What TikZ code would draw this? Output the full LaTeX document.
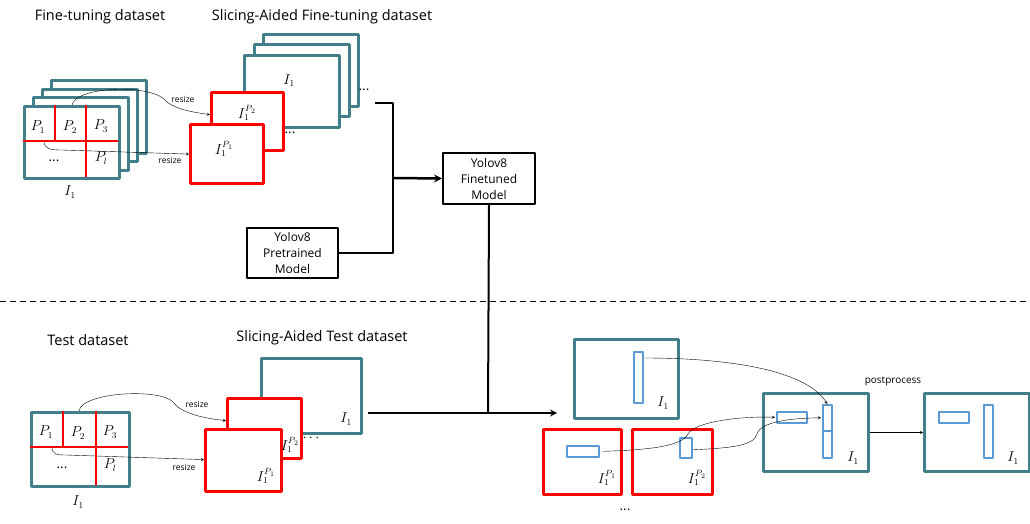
\documentclass[tikz,border=0pt]{standalone}
\usepackage{fontspec}
\setmainfont{Open Sans}
\usetikzlibrary{calc}
\definecolor{frameteal}{RGB}{67,127,139}
\definecolor{slicered}{RGB}{255,0,0}
\definecolor{boxblue}{RGB}{91,155,213}
\tikzset{
	frame/.style={draw=frameteal,line width=3pt,fill=white,inner sep=0pt,anchor=north west},
	slice/.style={draw=slicered,line width=3.2pt,fill=white,inner sep=0pt,anchor=north west},
	model/.style={draw,line width=2pt,fill=white,align=center,font=\fontsize{12}{16}\selectfont,inner sep=0pt,anchor=north west},
	bbox/.style={draw=boxblue,line width=1.6pt,fill=white,inner sep=0pt,anchor=north west},
	title/.style={font=\fontsize{14.5}{17}\selectfont},
	small/.style={font=\fontsize{8.5}{10}\selectfont},
	lbl/.style={font=\fontsize{13.5}{15}\selectfont,inner sep=0pt},
	grid/.style={draw=slicered,line width=1.2pt},
}
\begin{document}
\begin{tikzpicture}[x=1pt,y=-1pt,line join=round,>=stealth]
	\useasboundingbox (0,0) rectangle (1030,524);
	\node[title] (t1) at (100,17) {Fine-tuning dataset};
	\node[title] (t2) at (322,17) {Slicing-Aided Fine-tuning dataset};
	\node[title] (t3) at (88,340) {Test dataset};
	\node[title] (t4) at (322,338) {Slicing-Aided Test dataset};
	% fine-tuning
	\foreach \i in {3,2,1,0}{
		\node[frame,minimum width=95pt,minimum height=72pt] (ft\i) at ({23+9*\i},{105-8.5*\i}) {};
	}
	\draw[grid] (55,105)--(55,141) (86,105)--(86,177) (23,141)--(118,141);
	\node[lbl] (fp1) at (38,127) {$P_1$};
	\node[lbl] (fp2) at (70,127) {$P_2$};
	\node[lbl] (fp3) at (101,126) {$P_3$};
	\node[lbl] (fpd) at (54,161) {...};
	\node[lbl] (fpl) at (101,158) {$P_l$};
	\node[lbl] (fi1) at (70,192) {$I_1$};
	\foreach \i in {2,1,0}{
		\node[frame,minimum width=95pt,minimum height=72pt] (fs\i) at ({243+9.5*\i},{54-10.5*\i}) {};
	}
	\node[lbl] (fsl) at (289,81) {$I_1$};
	\node[slice,minimum width=72pt,minimum height=58pt] (tp2) at (210,91) {};
	\node[lbl] (tp2l) at (247,113) {$I_1^{P_2}$};
	\node[slice,minimum width=73pt,minimum height=59pt] (tp1) at (189,123) {};
	\node[lbl] (tp1l) at (224,149) {$I_1^{P_1}$};
	\node[lbl] (fd1) at (364,90) {...};
	\node[lbl] (fd2) at (290,133) {...};
	\draw[->,thin] (72,105) .. controls (76,86) and (150,84) .. (165,100) .. controls (172,108) and (190,112) .. ($(tp2.west)+(0,-7)$);
	\node[small] (rs1) at (183,99) {resize};
	\draw[->,thin] (44,141) .. controls (44,149) and (50,150) .. (62,150) -- (tp1.west);
	\node[small] (rs2) at (170,160) {resize};
	% models
	\node[model,minimum width=91pt,minimum height=50pt] (pre) at (246,227) {Yolov8\\Pretrained\\Model};
	\node[model,minimum width=92pt,minimum height=51pt] (fin) at (442,152) {Yolov8\\Finetuned\\Model};
	\coordinate (dots1) at (375,103);
	\coordinate (bend) at (393,178);
	\draw[line width=2pt] (dots1) -| (bend) |- (pre.east);
	\draw[->,line width=2.5pt] (bend) -- (fin.west);
	\draw[dashed,line width=1pt,dash pattern=on 6pt off 4pt] (0,301) -- (1030,301);
	% test
	\node[frame,minimum width=98pt,minimum height=74pt] (tt) at (30,411) {};
	\draw[grid] (63,411)--(63,447) (96,411)--(96,485) (30,447)--(128,447);
	\node[lbl] (tq1) at (46,432) {$P_1$};
	\node[lbl] (tq2) at (78,433) {$P_2$};
	\node[lbl] (tq3) at (110,432) {$P_3$};
	\node[lbl] (tqd) at (62,468) {...};
	\node[lbl] (tql) at (110,465) {$P_l$};
	\node[lbl] (ti1) at (78,502) {$I_1$};
	\node[frame,minimum width=100pt,minimum height=75pt] (ts) at (260,357) {};
	\node[lbl] (tsl) at (346,419) {$I_1$};
	\node[slice,minimum width=74pt,minimum height=60pt] (sp2) at (226,397) {};
	\node[slice,minimum width=76pt,minimum height=62pt] (sp1) at (204,428) {};
	\node[lbl] (sp2l) at (290,445) {$I_1^{P_2}$};
	\node[lbl] (sp1l) at (266,476) {$I_1^{P_1}$};
	\node[lbl] (td) at (311,438) {$\cdots$};
	\draw[->,thin] (79,411) .. controls (82,392) and (160,388) .. (173,402) .. controls (180,412) and (200,418) .. ($(sp2.west)+(0,-8)$);
	\node[small] (rs3) at (197,404) {resize};
	\draw[->,thin] (52,447) .. controls (52,454) and (56,455) .. (66,455) -- ($(sp1.west)+(0,-1)$);
	\node[small] (rs4) at (184,467) {resize};
	\coordinate (join) at (488,413);
	\coordinate (tstart) at (368,413);
	\coordinate (tend) at (557,413);
	\draw[line width=2pt] (fin.south) -- (join);
	\draw[->,line width=2pt] (tstart) -- (tend);
	% results
	\node[frame,minimum width=104pt,minimum height=79pt] (r0) at (573,338) {};
	\node[bbox,minimum width=9pt,minimum height=51pt] (r0v) at (633,351) {};
	\node[lbl] (r0l) at (663,403) {$I_1$};
	\node[slice,minimum width=78pt,minimum height=65pt] (ra) at (542,428) {};
	\node[bbox,minimum width=32pt,minimum height=11pt] (rah) at (566,445) {};
	\node[lbl] (ral) at (607,478) {$I_1^{P_1}$};
	\node[slice,minimum width=80pt,minimum height=65pt] (rb) at (631,428) {};
	\node[bbox,minimum width=12pt,minimum height=20pt] (rbv) at (679,437) {};
	\node[lbl] (rbl) at (697,478) {$I_1^{P_2}$};
	\node[lbl] (rd) at (625,510) {...};
	\node[frame,minimum width=105pt,minimum height=78pt] (mg) at (762,392) {};
	\node[bbox,minimum width=30pt,minimum height=11pt] (mgh) at (776,411) {};
	\node[bbox,minimum width=9pt,minimum height=27pt] (mgv2) at (822,430) {};
	\node[bbox,minimum width=9pt,minimum height=26pt] (mgv1) at (822,404) {};
	\node[lbl] (mgl) at (853,458) {$I_1$};
	\node[frame,minimum width=105pt,minimum height=78pt] (fn) at (923,392) {};
	\node[bbox,minimum width=30pt,minimum height=11pt] (fnh) at (938,411) {};
	\node[bbox,minimum width=9pt,minimum height=53pt] (fnv) at (983,404) {};
	\node[lbl] (fnl) at (1013,458) {$I_1$};
	\draw[->,thin] ($(r0v.north east)+(1,7)$) .. controls (720,358) and (805,368) .. (mgv1.north);
	\draw[->,thin] ($(rah.east)+(3,0)$) .. controls (650,450) and (682,446) .. (688,434) .. controls (694,422) and (740,416) .. ($(mgh.west)+(-1,0)$);
	\draw[->,thin] ($(rbv.east)+(0,2)$) .. controls (730,448) and (754,446) .. (757,434) .. controls (761,420) and (800,418) .. ($(mgv1.west)+(-1,0)$);
	\draw[->,thin] (mg.east) -- (fn.west);
	\node[font=\fontsize{10}{12}\selectfont] (pp) at (893,381) {postprocess};
\end{tikzpicture}
\end{document}
